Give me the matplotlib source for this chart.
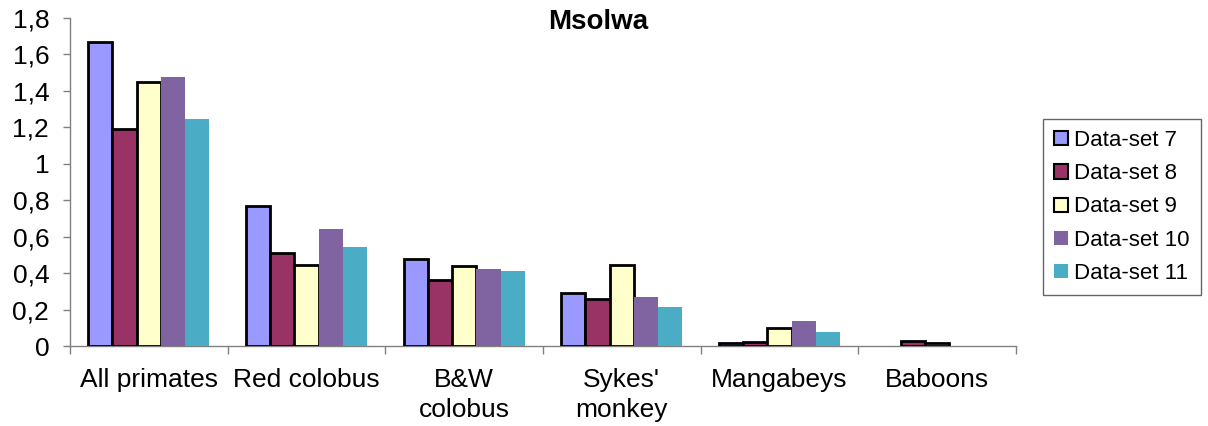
import matplotlib
matplotlib.use("Agg")
import matplotlib.pyplot as plt
import numpy as np
from matplotlib.ticker import FuncFormatter, FixedLocator

plt.rcParams['font.family'] = ['Liberation Sans', 'DejaVu Sans']

categories = ["All primates", "Red colobus", "B&W\ncolobus", "Sykes'\nmonkey", "Mangabeys", "Baboons"]
series_names = ["Data-set 7", "Data-set 8", "Data-set 9", "Data-set 10", "Data-set 11"]
set7 = [1.67, 0.77, 0.48, 0.29, 0.015, 0.0]
set8 = [1.19, 0.51, 0.36, 0.26, 0.024, 0.025]
set9 = [1.45, 0.445, 0.44, 0.445, 0.097, 0.019]
set10 = [1.475, 0.64, 0.42, 0.267, 0.137, 0.0]
set11 = [1.245, 0.543, 0.41, 0.214, 0.075, 0.0]
values = [set7, set8, set9, set10, set11]
colors = ["#9999FF", "#993366", "#FFFFCC", "#8064A2", "#4BACC6"]
edged = [True, True, True, False, False]

fig = plt.figure(figsize=(12.08, 4.26), dpi=100)
W, H = 1208, 426
ax = fig.add_axes([70 / W, 1 - 346 / H, (1016 - 70) / W, (346 - 18) / H])

n = len(series_names)
gap = 1.5
bw = 1.0 / (n + gap)
x = np.arange(len(categories))
for i, (vals, c, e) in enumerate(zip(values, colors, edged)):
    offs = (i - (n - 1) / 2) * bw
    bars = ax.bar(x + offs, vals, width=bw, color=c,
                  edgecolor="black" if e else c,
                  linewidth=2.0 if e else 0, label=series_names[i], zorder=3)
    for b, v in zip(bars, vals):
        if v == 0:
            b.set_visible(False)

ax.set_xlim(-0.5, len(categories) - 0.5)
ax.set_ylim(0, 1.8)
ax.yaxis.set_major_locator(FixedLocator(np.arange(0, 1.81, 0.2)))
ax.yaxis.set_major_formatter(FuncFormatter(lambda v, p: ("%g" % round(v, 1)).replace(".", ",")))
ax.set_xticks(np.arange(-0.5, len(categories), 1.0))
ax.set_xticklabels([])
ax.set_xticks(x, minor=True)
ax.set_xticklabels(categories, minor=True, fontsize=19, va="top", linespacing=1.33)
ax.tick_params(axis="x", which="minor", length=0, pad=16)
ax.tick_params(axis="x", which="major", length=6, width=1, color="#808080", direction="out")
ax.tick_params(axis="y", length=5, width=1, color="#808080", direction="out", labelsize=19, pad=10)
for s in ["top", "right"]:
    ax.spines[s].set_visible(False)
for s in ["left", "bottom"]:
    ax.spines[s].set_color("#808080")
    ax.spines[s].set_linewidth(1)

fig.text(598 / W, 1 - 22 / H, "Msolwa", ha="center", va="center", fontsize=20, fontweight="bold")

leg = fig.legend(loc="center", bbox_to_anchor=(1122 / W, 1 - 207 / H), fontsize=16,
                 frameon=True, fancybox=False, edgecolor="#404040",
                 handlelength=0.6, handleheight=0.6, handletextpad=0.3,
                 labelspacing=0.55, borderpad=0.5)
leg.get_frame().set_linewidth(1)
for h, e in zip(leg.legend_handles, edged):
    h.set_linewidth(1.5 if e else 0)

fig.savefig("out.png", dpi=100)
